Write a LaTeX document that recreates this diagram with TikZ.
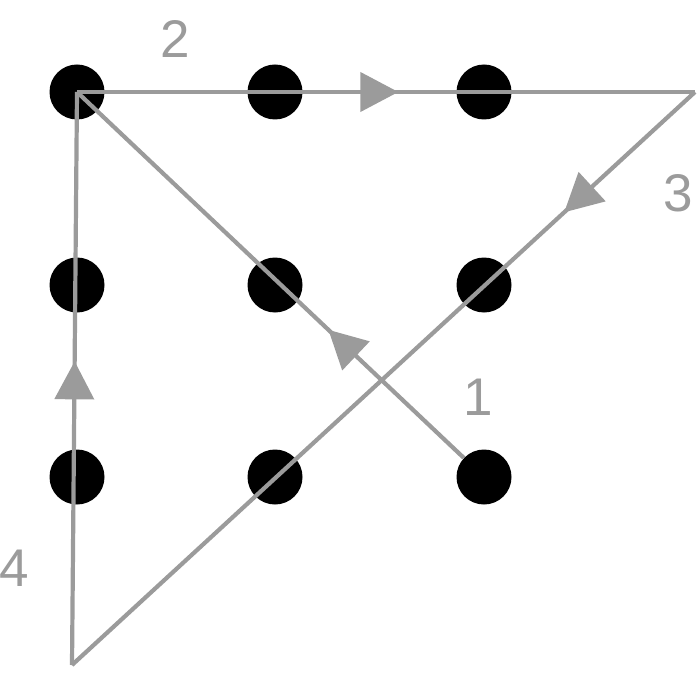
\documentclass[tikz,border=0pt]{standalone}
\usepackage{fontspec}
\setmainfont{Liberation Sans}
\usetikzlibrary{decorations.markings,arrows.meta}
\definecolor{ln}{RGB}{155,155,155}
\tikzset{
  dot/.style={circle,fill=black,inner sep=0pt,minimum size=27.5pt},
  seg/.style={draw=ln,line width=2.1pt,line join=miter},
  arrowat/.style={postaction={decorate},decoration={markings,
     mark=at position #1 with {\arrow{Triangle[length=19pt,width=19.5pt]}}}},
  lab/.style={text=ln,font=\fontsize{26.5}{26.5}\selectfont,inner sep=0pt}
}
\begin{document}
\begin{tikzpicture}[x=0.5pt,y=-0.5pt]
\useasboundingbox (0,0) rectangle (700,700);
\foreach \i/\x in {1/77,2/275,3/484}{
  \foreach \j/\y in {1/92,2/285,3/477}{
    \node[dot] (d\j\i) at (\x,\y) {};
  }
}
\coordinate (c1) at (695,92);
\coordinate (c2) at (72,665);
\draw[seg,ln,arrowat=0.35] (d33) -- (d11.center);
\draw[seg,ln,arrowat=0.52] (d11.center) -- (c1);
\draw[seg,ln,arrowat=0.21] (c1) -- (c2);
\draw[seg,ln,arrowat=0.53] (c2) -- (d11.center);
\node[lab] (l2) at (175,39) {2};
\node[lab] (l3) at (678,193) {3};
\node[lab] (l1) at (478,397) {1};
\node[lab] (l4) at (14,568) {4};
\end{tikzpicture}
\end{document}
